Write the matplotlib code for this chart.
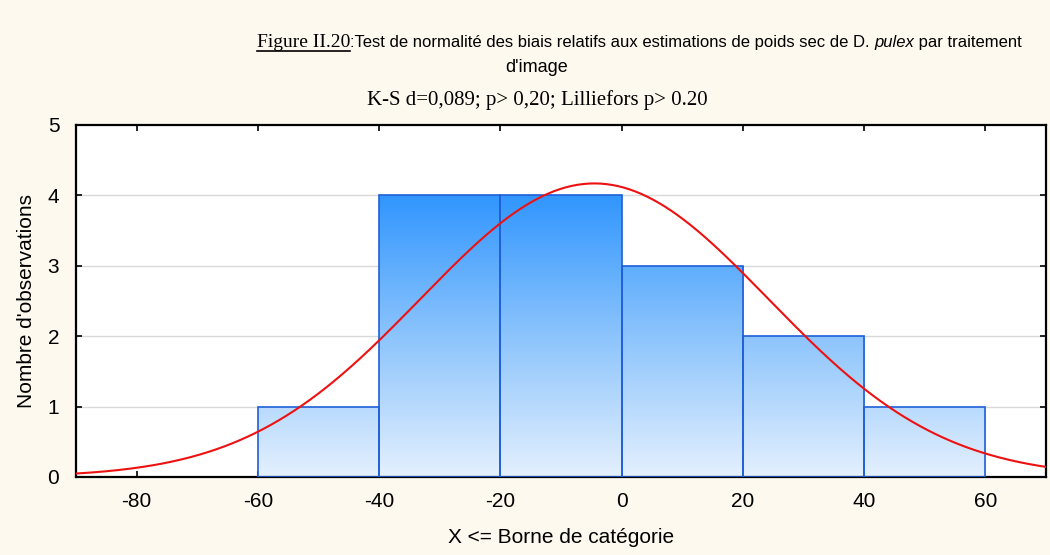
import numpy as np
import matplotlib
matplotlib.use("Agg")
import matplotlib.pyplot as plt
from matplotlib.colors import LinearSegmentedColormap

plt.rcParams["axes.unicode_minus"] = False

# ---------------------------------------------------------------- DATA -----
BIN_EDGES = [-60, -40, -20, 0, 20, 40, 60]
COUNTS = [1, 4, 4, 3, 2, 1]
FIT_MEAN = -4.5          # fitted normal
FIT_SD = 28.7
X_TICKS = [-80, -60, -40, -20, 0, 20, 40, 60]
Y_TICKS = [0, 1, 2, 3, 4, 5]

BG = "#fdf9ef"
EDGE = "#1f5fd8"

fig = plt.figure(figsize=(10.5, 5.55), dpi=100, facecolor=BG)
ax = fig.add_axes([76 / 1050, 78 / 555, 970 / 1050, 352 / 555])
ax.set_facecolor("white")

# gradient-filled bars (dark at count 4, pale at 0)
cmap = LinearSegmentedColormap.from_list("g", ["#e4f0fe", "#8cc4fc", "#3196fe"])
grad = np.linspace(0, 1, 256).reshape(-1, 1)
width = BIN_EDGES[1] - BIN_EDGES[0]
bars = ax.bar(BIN_EDGES[:-1], COUNTS, width=width, align="edge",
              facecolor="none", edgecolor=EDGE, linewidth=1.2, zorder=3)
for b in bars:
    im = ax.imshow(grad, extent=(-90, 70, 0, max(COUNTS)), origin="lower",
                   cmap=cmap, aspect="auto", zorder=2, interpolation="bilinear")
    im.set_clip_path(b)

# fitted normal curve scaled to counts
n = sum(COUNTS)
xs = np.linspace(-90, 70, 500)
ys = n * width / (FIT_SD * np.sqrt(2 * np.pi)) * np.exp(-0.5 * ((xs - FIT_MEAN) / FIT_SD) ** 2)
ax.plot(xs, ys, color="#ee1111", lw=1.5, zorder=4)

ax.set_xlim(-90, 70)
ax.set_ylim(0, 5)
ax.set_xticks(X_TICKS)
ax.set_yticks(Y_TICKS)
for v in Y_TICKS[1:-1]:
    ax.axhline(v, color="#d9d9d9", lw=1, zorder=1)
ax.tick_params(direction="in", length=4, width=1.2, top=True, right=True,
               labelsize=15, colors="black")
ax.tick_params(axis="x", pad=11)
ax.tick_params(axis="y", pad=12)
for lab in ax.get_xticklabels() + ax.get_yticklabels():
    lab.set_family("Liberation Sans")
for s in ax.spines.values():
    s.set_linewidth(1.6)

ax.set_xlabel("X <= Borne de catégorie", fontsize=15, family="Liberation Sans", labelpad=12)
ax.set_ylabel("Nombre d'observations", fontsize=15, family="Liberation Sans", labelpad=8)

# ---- title: mixed fonts on line 1
fig.canvas.draw()
r = fig.canvas.get_renderer()
parts = [
    ("Figure II.20", "Liberation Serif", "normal", 14),
    (":Test de normalité des biais relatifs aux estimations de poids sec de D. ", "Liberation Sans", "normal", 12),
    ("pulex", "Liberation Sans", "italic", 12),
    (" par traitement", "Liberation Sans", "normal", 12),
]
y1 = 1 - 47 / 555
x0 = 257 / 1050
x = x0
for i, (s, fam, sty, sz) in enumerate(parts):
    t = fig.text(x, y1, s, family=fam, style=sty, fontsize=sz, ha="left", va="baseline")
    w = t.get_window_extent(r).width / fig.bbox.width
    if i == 0:
        fig.add_artist(plt.Line2D([x, x + w], [y1 - 4 / 555] * 2, color="black", lw=1.2))
    x += w

fig.text(0.511, 1 - 72 / 555, "d'image", family="Liberation Sans", fontsize=13, ha="center", va="baseline")
fig.text(0.512, 1 - 105 / 555, "K-S d=0,089; p> 0,20; Lilliefors p> 0.20",
         family="Liberation Serif", fontsize=15, ha="center", va="baseline")

fig.savefig("out.png", dpi=100, facecolor=BG)
